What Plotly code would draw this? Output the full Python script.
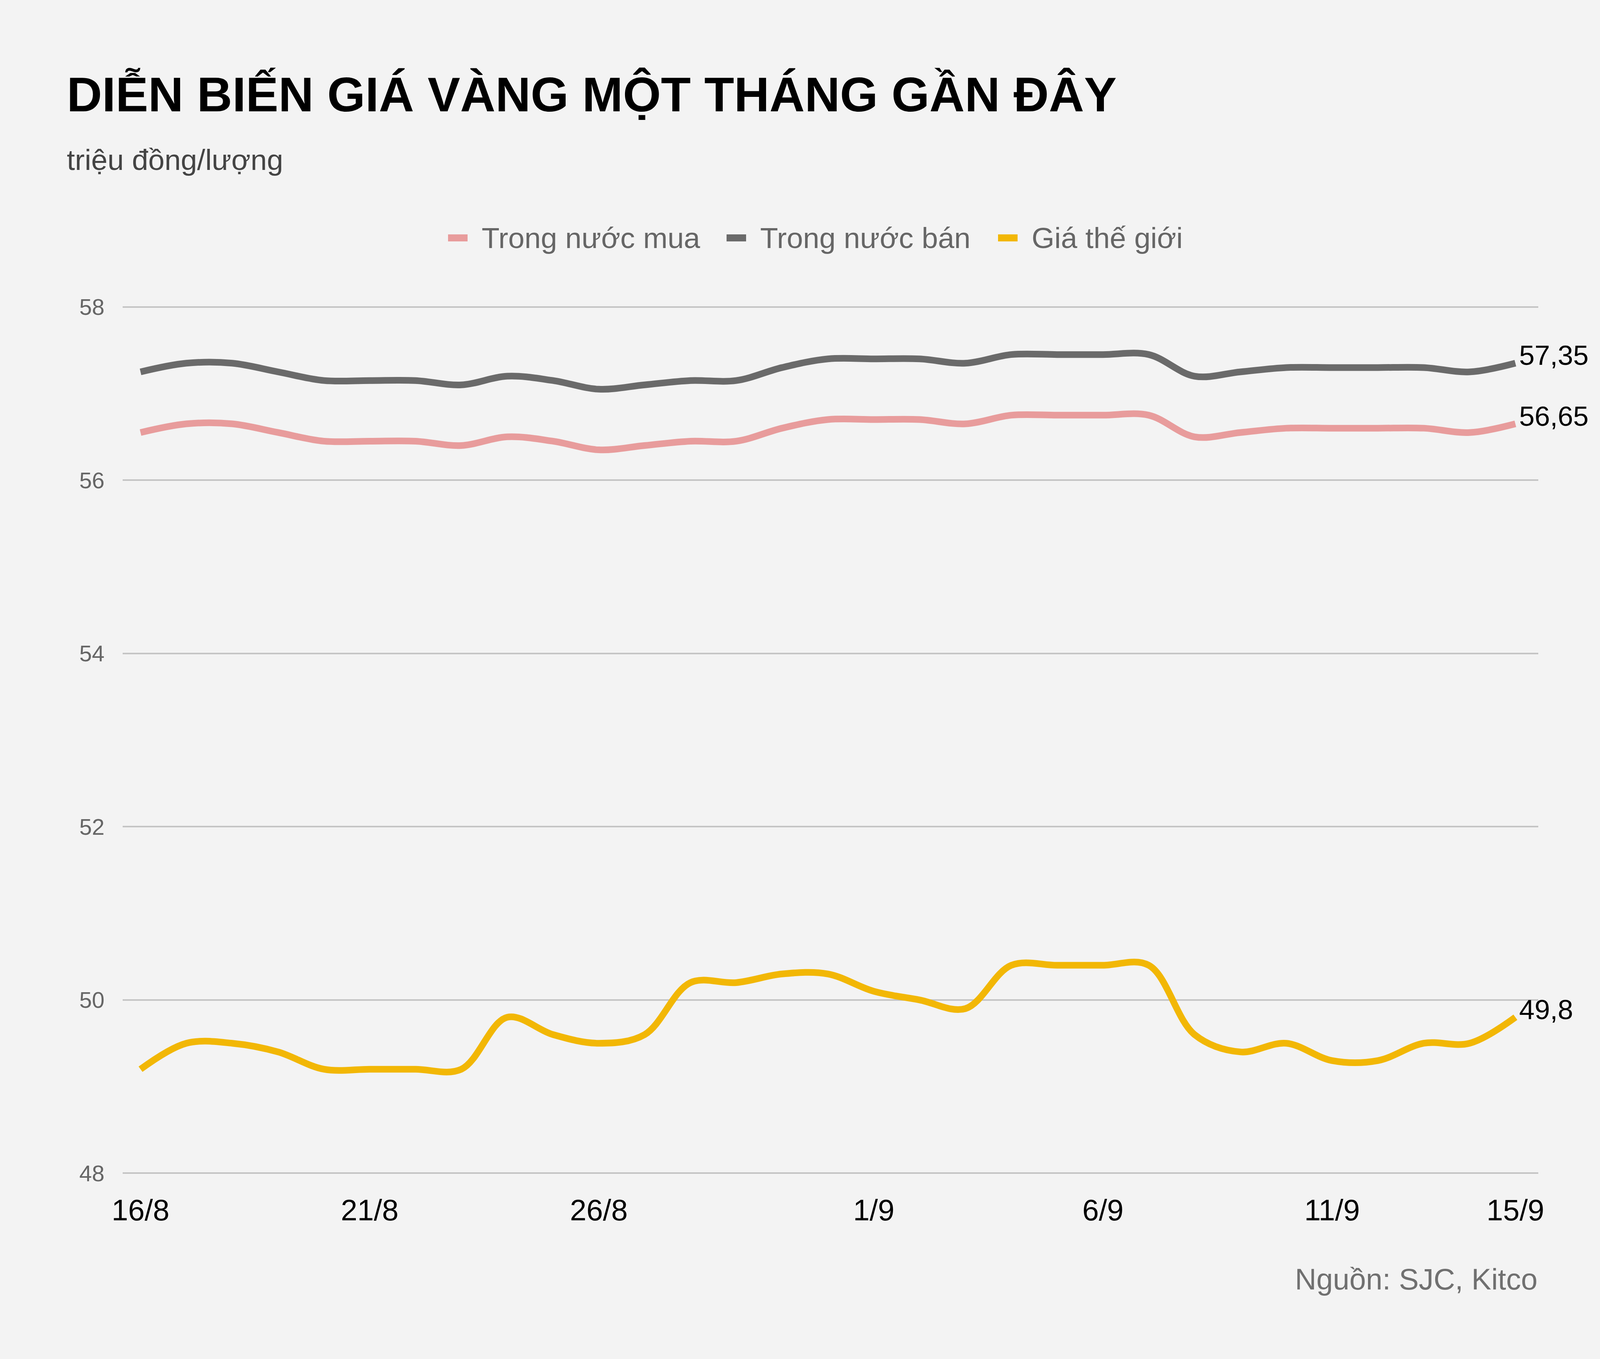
import plotly.graph_objects as go

# Ngày (16/8 - 15/9)
days = [f"{d}/8" for d in range(16, 32)] + [f"{d}/9" for d in range(1, 16)]
tick_days = ["16/8", "21/8", "26/8", "1/9", "6/9", "11/9", "15/9"]

# triệu đồng/lượng
trong_nuoc_mua = [56.55, 56.65, 56.65, 56.55, 56.45, 56.45, 56.45, 56.4, 56.5, 56.45,
                  56.35, 56.4, 56.45, 56.45, 56.6, 56.7, 56.7, 56.7, 56.65, 56.75,
                  56.75, 56.75, 56.75, 56.5, 56.55, 56.6, 56.6, 56.6, 56.6, 56.55, 56.65]
trong_nuoc_ban = [57.25, 57.35, 57.35, 57.25, 57.15, 57.15, 57.15, 57.1, 57.2, 57.15,
                  57.05, 57.1, 57.15, 57.15, 57.3, 57.4, 57.4, 57.4, 57.35, 57.45,
                  57.45, 57.45, 57.45, 57.2, 57.25, 57.3, 57.3, 57.3, 57.3, 57.25, 57.35]
gia_the_gioi = [49.2, 49.5, 49.5, 49.4, 49.2, 49.2, 49.2, 49.2, 49.8, 49.6,
                49.5, 49.6, 50.2, 50.2, 50.3, 50.3, 50.1, 50.0, 49.9, 50.4,
                50.4, 50.4, 50.4, 49.6, 49.4, 49.5, 49.3, 49.3, 49.5, 49.5, 49.8]

series = [
    ("Trong nước mua", trong_nuoc_mua, "#e89c9c"),
    ("Trong nước bán", trong_nuoc_ban, "#6a6a6a"),
    ("Giá thế giới", gia_the_gioi, "#f2b705"),
]

FONT = "Liberation Sans, Arial, sans-serif"
BG = "#f3f3f3"
W, H = 4175, 3479
MARGIN = dict(l=314, r=237, t=779, b=469)

# pixel -> toạ độ paper (dùng cho chú thích tự vẽ)
plot_w = W - MARGIN["l"] - MARGIN["r"]
plot_h = H - MARGIN["t"] - MARGIN["b"]


def px_x(px):
    return (px - MARGIN["l"]) / plot_w


def px_y(py):
    return (H - MARGIN["b"] - py) / plot_h


fig = go.Figure()

for name, values, color in series:
    fig.add_trace(
        go.Scatter(
            x=days,
            y=values,
            mode="lines",
            name=name,
            showlegend=False,
            line=dict(color=color, width=17, shape="spline", smoothing=1),
            hoverinfo="skip",
        )
    )

# Nhãn giá trị cuối
annotations = []
for name, values, color in series:
    label = f"{values[-1]:.2f}".rstrip("0").rstrip(".").replace(".", ",")
    annotations.append(dict(
        x=days[-1], y=values[-1], xref="x", yref="y",
        text=label, showarrow=False,
        xanchor="left", yanchor="middle", xshift=8, yshift=20,
        font=dict(family=FONT, size=71, color="#000000"),
    ))

# Chú thích (ký hiệu dày như bản gốc nên tự vẽ)
shapes = []
legend_sym_px = [1147, 1860, 2555]
legend_y_px = 609
for (name, values, color), sx in zip(series, legend_sym_px):
    shapes.append(dict(
        type="rect", xref="paper", yref="paper",
        x0=px_x(sx), x1=px_x(sx + 50),
        y0=px_y(legend_y_px + 9), y1=px_y(legend_y_px - 9),
        fillcolor=color, line=dict(width=0),
    ))
    annotations.append(dict(
        x=px_x(sx + 84), y=px_y(legend_y_px), xref="paper", yref="paper",
        text=name, showarrow=False,
        xanchor="left", yanchor="middle",
        font=dict(family=FONT, size=75, color="#666666"),
    ))

# Tiêu đề, đơn vị, nguồn
annotations += [
    dict(x=-0.04, y=1.2411, xref="paper", yref="paper",
         text="<b>DIỄN BIẾN GIÁ VÀNG MỘT THÁNG GẦN ĐÂY</b>", showarrow=False,
         xanchor="left", yanchor="middle",
         font=dict(family=FONT, size=125, color="#000000")),
    dict(x=-0.04, y=1.1658, xref="paper", yref="paper",
         text="triệu đồng/lượng", showarrow=False,
         xanchor="left", yanchor="middle",
         font=dict(family=FONT, size=75, color="#444444")),
    dict(x=1, y=-0.1185, xref="paper", yref="paper",
         text="Nguồn: SJC, Kitco", showarrow=False,
         xanchor="right", yanchor="middle",
         font=dict(family=FONT, size=76, color="#707070")),
]

fig.update_layout(
    width=W,
    height=H,
    paper_bgcolor=BG,
    plot_bgcolor=BG,
    margin=MARGIN,
    font=dict(family=FONT),
    showlegend=False,
    annotations=annotations,
    shapes=shapes,
)

fig.update_xaxes(
    type="category",
    categoryorder="array",
    categoryarray=days,
    range=[-0.39, 30.5],
    tickvals=tick_days,
    ticktext=tick_days,
    showgrid=False,
    zeroline=False,
    showline=False,
    ticks="outside",
    ticklen=22,
    tickcolor=BG,
    tickfont=dict(family=FONT, size=76, color="#000000"),
)

fig.update_yaxes(
    range=[47.97, 58.03],
    dtick=2,
    tick0=48,
    showgrid=True,
    gridcolor="#c4c4c4",
    gridwidth=4,
    zeroline=False,
    showline=False,
    ticks="outside",
    ticklen=34,
    tickcolor=BG,
    tickfont=dict(family=FONT, size=58, color="#666666"),
)

fig.write_html(
    "out.html",
    config={"displayModeBar": False},
    post_script="document.body.style.margin='0';",
)
